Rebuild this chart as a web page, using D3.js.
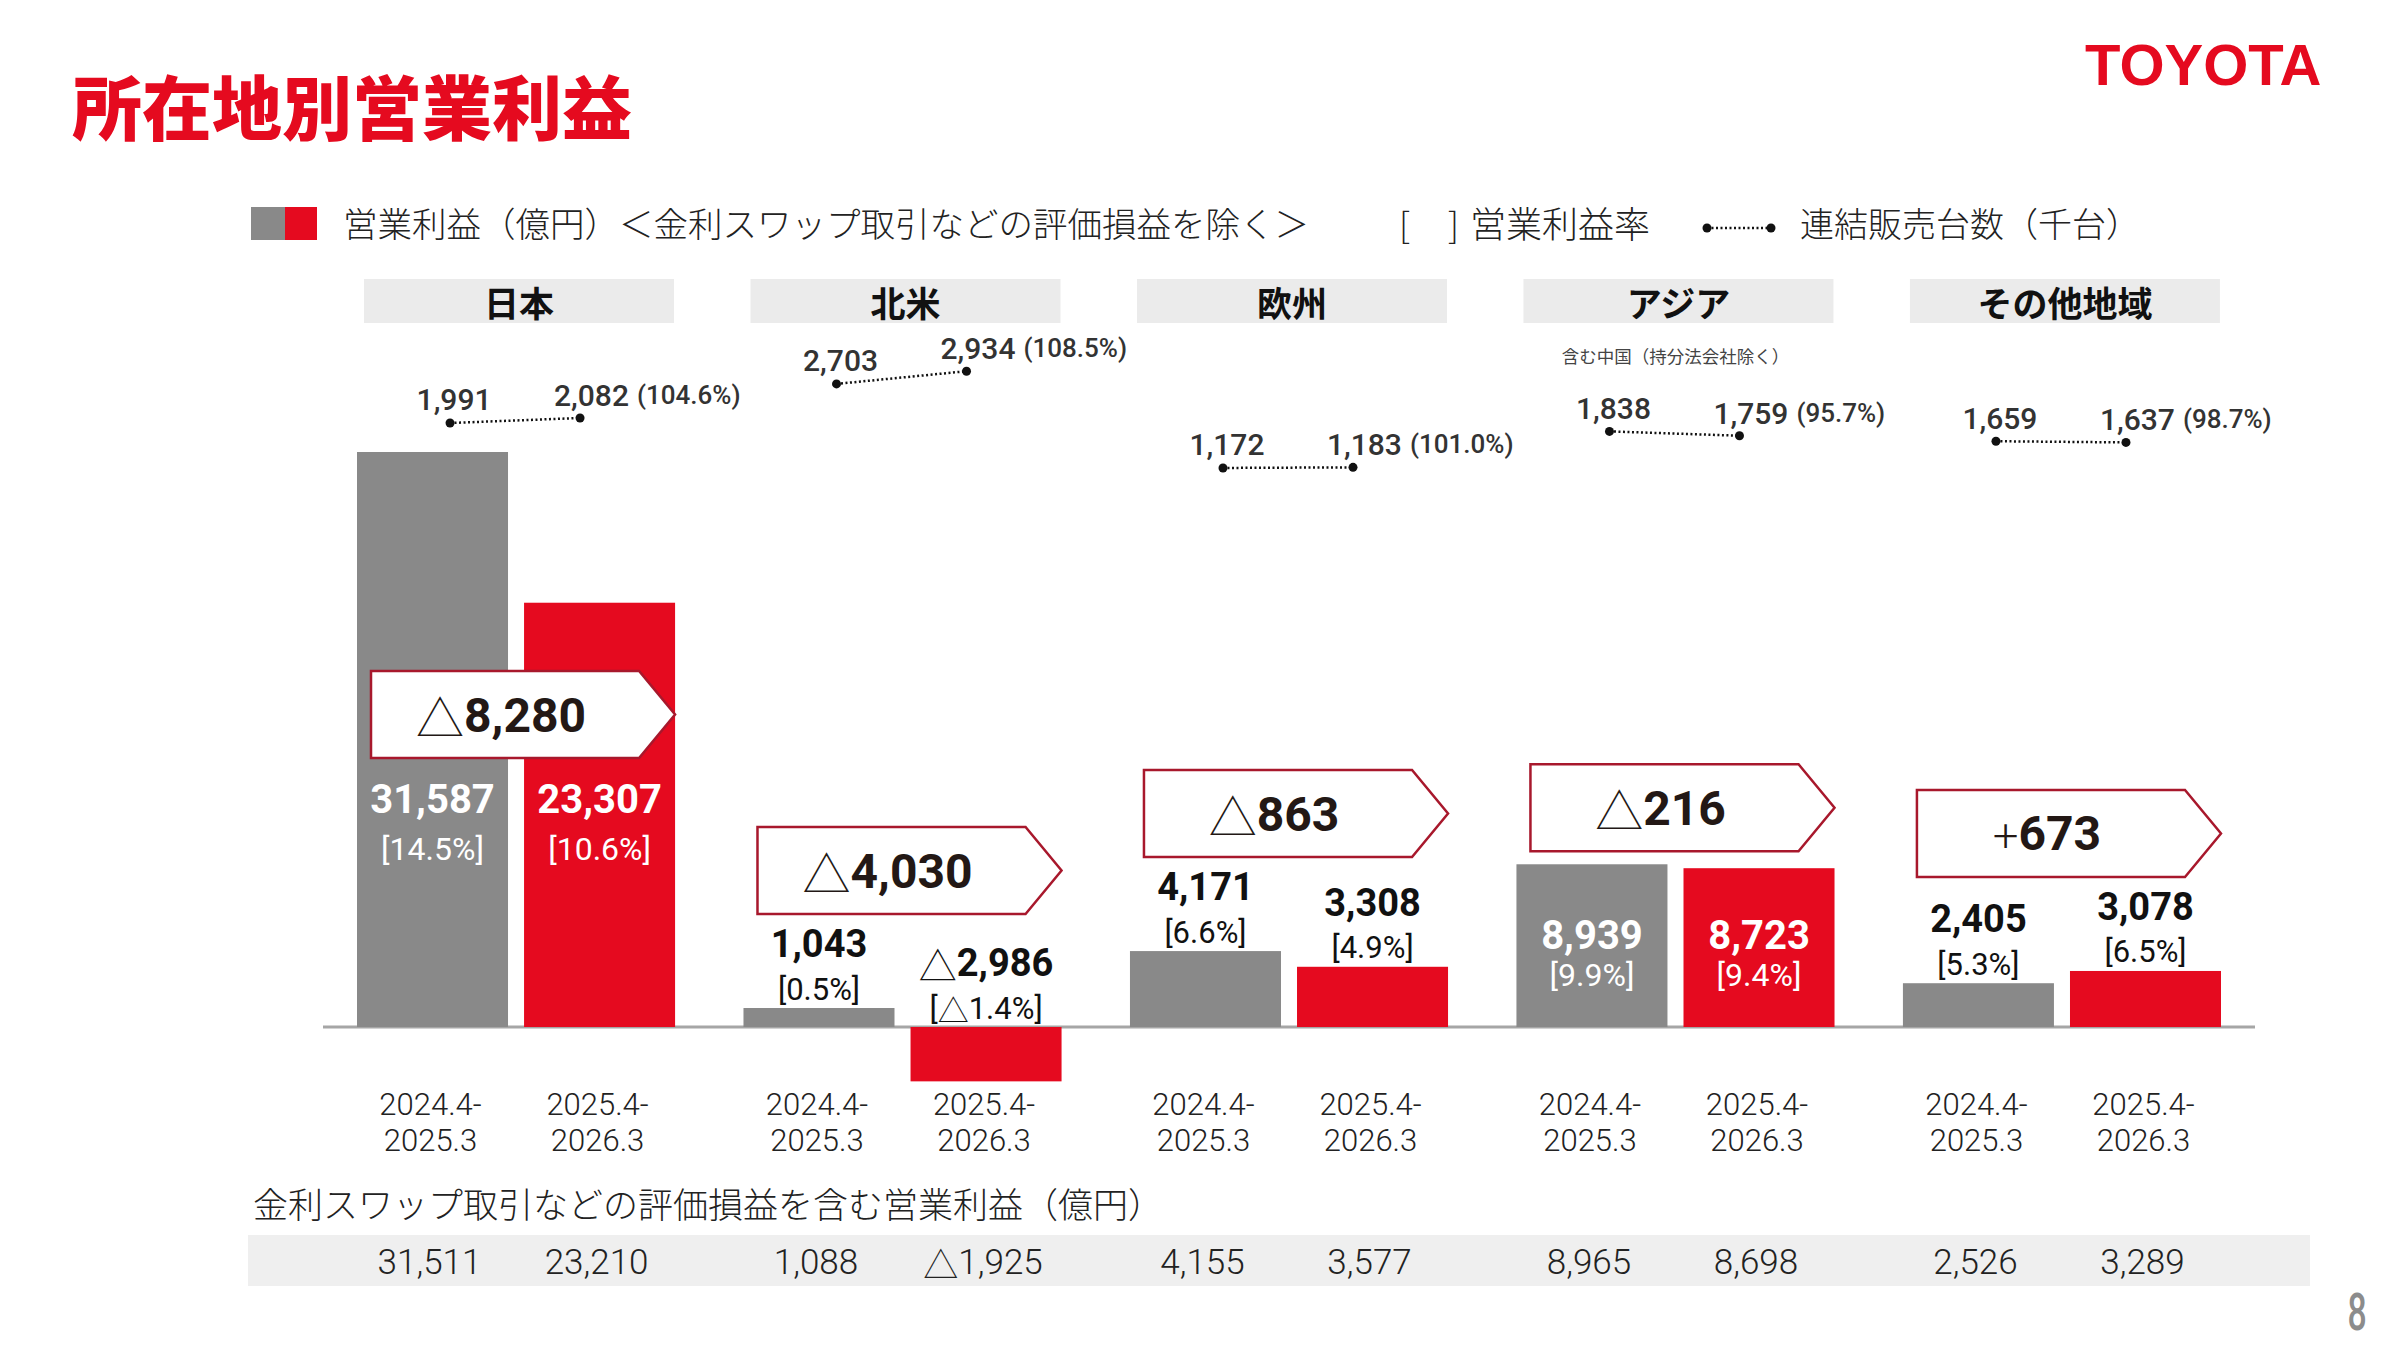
<!DOCTYPE html>
<html><head><meta charset="utf-8">
<script src="https://cdn.jsdelivr.net/npm/d3@7"></script>
<style>
html,body{margin:0;padding:0;background:#fff;}
svg{display:block;}
</style></head><body>
<svg id="chart" width="2400" height="1350"></svg>
<script>
// ---------------- DATA ----------------
const regions = ["日本", "北米", "欧州", "アジア", "その他地域"];
const regionNotes = ["", "", "", "含む中国（持分法会社除く）", ""];
const periodStart = ["2024.4-", "2025.4-"];
const periodEnd = ["2025.3", "2026.3"];
const profitPrev = [31587, 1043, 4171, 8939, 2405];
const profitCurr = [23307, -2986, 3308, 8723, 3078];
const marginPrev = [14.5, 0.5, 6.6, 9.9, 5.3];
const marginCurr = [10.6, -1.4, 4.9, 9.4, 6.5];
const profitChange = [-8280, -4030, -863, -216, 673];
const salesPrev = [1991, 2703, 1172, 1838, 1659];
const salesCurr = [2082, 2934, 1183, 1759, 1637];
const salesRatio = [104.6, 108.5, 101.0, 95.7, 98.7];
const inclSwapPrev = [31511, 1088, 4155, 8965, 2526];
const inclSwapCurr = [23210, -1925, 3577, 8698, 3289];

// ---------------- STYLE ----------------
const RED = "#E50A1F", GRAY = "#898989", BOXSTROKE = "#A8182C";
const NUM = "Roboto, 'Noto Sans', sans-serif";
const JP = "'Noto Sans CJK JP', 'Noto Sans', sans-serif";

const svg = d3.select("#chart");

function addText(parent, o) {
  const t = parent.append("text")
    .attr("transform", `translate(${o.x},${o.y}) scale(${o.sx || 1},1)`)
    .attr("text-anchor", o.anchor || "middle")
    .attr("dominant-baseline", "central")
    .style("font-family", o.family || NUM)
    .style("font-size", o.size + "px")
    .style("font-weight", o.weight || 400)
    .attr("fill", o.fill || "#222");
  if (o.text !== undefined) t.text(o.text);
  return t;
}
const fmtNum = v => (v < 0 ? "△" : "") + d3.format(",")(Math.abs(v));
const fmtPct = v => "[" + (v < 0 ? "△" : "") + Math.abs(v).toFixed(1) + "%]";

// ---------------- SCALES ----------------
const y = d3.scaleLinear().domain([0, d3.max(profitPrev)]).range([1027, 452]);
const x0 = d3.scaleBand().domain(regions).range([357, 2221]).paddingInner(0.177).paddingOuter(0);
const x1 = d3.scaleBand().domain([0, 1]).range([0, x0.bandwidth()]).paddingInner(0.096);
const ySales = d3.scaleLinear().domain([1000, 3000]).range([477.4, 367.6]);

// ---------------- TITLE / LOGO ----------------
addText(svg, {x: 72, y: 104, text: "所在地別営業利益", size: 70, weight: 900, fill: RED, anchor: "start", family: JP});
addText(svg, {x: 2085, y: 64, text: "TOYOTA", size: 58, weight: 700, fill: RED, anchor: "start", family: "'Liberation Sans', Arial, sans-serif"});

// ---------------- LEGEND ----------------
const lg = svg.append("g");
lg.append("rect").attr("x", 251).attr("y", 207).attr("width", 34).attr("height", 33).attr("fill", GRAY);
lg.append("rect").attr("x", 285).attr("y", 207).attr("width", 32).attr("height", 33).attr("fill", RED);
addText(lg, {x: 343, y: 222, text: "営業利益（億円）＜金利スワップ取引などの評価損益を除く＞", size: 34.5, weight: 300, anchor: "start", family: JP});
addText(lg, {x: 1399, y: 222, text: "[", size: 35, weight: 300, anchor: "start", family: JP});
addText(lg, {x: 1448, y: 222, text: "]", size: 35, weight: 300, anchor: "start", family: JP});
addText(lg, {x: 1470, y: 222, text: "営業利益率", size: 36, weight: 300, anchor: "start", family: JP});
lg.append("line").attr("x1", 1707).attr("x2", 1771).attr("y1", 228).attr("y2", 228)
  .attr("stroke", "#111").attr("stroke-width", 2.5).attr("stroke-dasharray", "2,2.5");
[1707, 1771].forEach(cx => lg.append("circle").attr("cx", cx).attr("cy", 228).attr("r", 4.5).attr("fill", "#111"));
addText(lg, {x: 1800, y: 222, text: "連結販売台数（千台）", size: 34, weight: 300, anchor: "start", family: JP});

// ---------------- HEADERS ----------------
regions.forEach((r, i) => {
  const gx = x0(r);
  svg.append("rect").attr("x", gx + 7).attr("y", 279).attr("width", 310).attr("height", 44).attr("fill", "#EBEBEB");
  addText(svg, {x: gx + 162, y: 301, text: r, size: 35, weight: 700, fill: "#111", family: JP});
  if (regionNotes[i]) addText(svg, {x: gx + x0.bandwidth() / 2, y: 355, text: regionNotes[i], size: 17.5, weight: 400, fill: "#444", family: JP});
});

// ---------------- AXIS LINE ----------------
svg.append("line").attr("x1", x0.range()[0] - 34).attr("x2", x0.range()[1] + 34)
  .attr("y1", y(0)).attr("y2", y(0)).attr("stroke", "#A6A6A6").attr("stroke-width", 3);

// ---------------- BARS & LABELS ----------------
regions.forEach((r, i) => {
  const gx = x0(r), bw = x0.bandwidth();
  const vals = [profitPrev[i], profitCurr[i]];
  const margins = [marginPrev[i], marginCurr[i]];
  const g = svg.append("g");
  g.selectAll("rect.bar").data(vals).enter().append("rect")
    .attr("class", "bar")
    .attr("x", (v, k) => gx + x1(k))
    .attr("width", x1.bandwidth())
    .attr("y", v => y(Math.max(0, v)))
    .attr("height", v => Math.abs(y(v) - y(0)))
    .attr("fill", (v, k) => k === 0 ? GRAY : RED);

  const tops = vals.map(v => y(Math.max(0, v)));
  const minTop = d3.min(tops);
  const heights = vals.map(v => Math.abs(y(v) - y(0)));
  const inside = d3.min(heights) > 120;
  const tall = d3.max(vals) > 0.6 * d3.max(profitPrev);
  let boxBottom;
  if (tall) boxBottom = y(0) - 269;
  else if (inside) boxBottom = minTop - 13;
  else boxBottom = minTop - 94;

  vals.forEach((v, k) => {
    const cx = gx + x1(k) + x1.bandwidth() / 2;
    if (inside) {
      const vy = tall ? boxBottom + 41 : minTop + 71;
      const py = vy + (tall ? 50 : 40);
      addText(g, {x: cx, y: vy, text: fmtNum(v), size: 40, weight: 700, fill: "#fff"});
      addText(g, {x: cx, y: py, text: fmtPct(margins[k]), size: 32, weight: 400, fill: "#fff"});
    } else {
      const top = y(Math.max(0, v));
      const t1 = addText(g, {x: cx, y: top - 64, size: 38, weight: 700, fill: "#111"});
      if (v < 0) {
        t1.append("tspan").style("font-family", JP).style("font-weight", 300).text("△");
        t1.append("tspan").text(d3.format(",")(Math.abs(v)));
      } else t1.text(fmtNum(v));
      const t2 = addText(g, {x: cx, y: top - 19, size: 31, weight: 400, fill: "#111"});
      if (margins[k] < 0) {
        t2.append("tspan").text("[");
        t2.append("tspan").style("font-family", JP).style("font-weight", 300).text("△");
        t2.append("tspan").text(Math.abs(margins[k]).toFixed(1) + "%]");
      } else t2.text(fmtPct(margins[k]));
    }
  });

  // change box
  const boxH = 87, L = gx + 14, R = gx + bw, d = 36, T = boxBottom - boxH, mid = T + boxH / 2;
  g.append("path")
    .attr("d", `M${L},${T}L${R - d},${T}L${R},${mid}L${R - d},${boxBottom}L${L},${boxBottom}Z`)
    .attr("fill", "#fff").attr("stroke", BOXSTROKE).attr("stroke-width", 2.5);
  const ct = addText(g, {x: (L + R - d) / 2 - 4, y: mid, size: 48, weight: 700, fill: "#231815"});
  const c = profitChange[i];
  ct.append("tspan").style("font-family", JP).style("font-weight", 300).text(c < 0 ? "△" : "+");
  ct.append("tspan").text(d3.format(",")(Math.abs(c)));

  // sales volume
  const center = gx + bw / 2;
  const sx = [center - 66, center + 64];
  const sy = [ySales(salesPrev[i]), ySales(salesCurr[i])];
  g.append("line").attr("x1", sx[0]).attr("x2", sx[1]).attr("y1", sy[0]).attr("y2", sy[1])
    .attr("stroke", "#111").attr("stroke-width", 2.5).attr("stroke-dasharray", "2,2.5");
  sx.forEach((px, k) => g.append("circle").attr("cx", px).attr("cy", sy[k]).attr("r", 4.5).attr("fill", "#111"));
  addText(g, {x: sx[0] + 4, y: sy[0] - 23, text: d3.format(",")(salesPrev[i]), size: 30, weight: 500, fill: "#333"});
  const st = addText(g, {x: sx[1] - 26, y: sy[1] - 23, size: 30, weight: 500, fill: "#333", anchor: "start"});
  st.append("tspan").text(d3.format(",")(salesCurr[i]));
  st.append("tspan").attr("dx", 8).style("font-size", "26px").text("(" + salesRatio[i].toFixed(1) + "%)");

  // period labels
  [0, 1].forEach(k => {
    const cx = gx + x1(k) + x1.bandwidth() / 2;
    addText(svg, {x: cx - 2, y: 1104, text: periodStart[k], size: 31, weight: 300, fill: "#222"});
    addText(svg, {x: cx - 2, y: 1140, text: periodEnd[k], size: 31, weight: 300, fill: "#222"});
  });
});

// ---------------- BOTTOM TABLE ----------------
addText(svg, {x: 253, y: 1202, text: "金利スワップ取引などの評価損益を含む営業利益（億円）", size: 35, weight: 300, anchor: "start", family: JP});
svg.append("rect").attr("x", 248).attr("y", 1235).attr("width", 2062).attr("height", 51).attr("fill", "#EFEFEF");
regions.forEach((r, i) => {
  [inclSwapPrev[i], inclSwapCurr[i]].forEach((v, k) => {
    const cx = x0(r) + x1(k) + x1.bandwidth() / 2;
    const t = addText(svg, {x: cx - 3, y: 1262, size: 35, weight: 300, fill: "#222"});
    if (v < 0) {
      t.append("tspan").style("font-family", JP).text("△");
      t.append("tspan").text(d3.format(",")(Math.abs(v)));
    } else t.text(fmtNum(v));
  });
});

// page number
addText(svg, {x: 2357, y: 1312, text: "8", size: 52, weight: 500, fill: "#8c8c8c", sx: 0.65});
</script>
</body></html>
